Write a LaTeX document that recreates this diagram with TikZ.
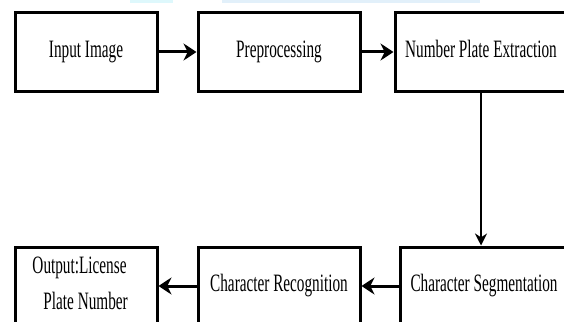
\documentclass[tikz,border=0pt]{standalone}
\usepackage{fontspec}
\setmainfont{Liberation Serif}[FakeStretch=0.61]
\usetikzlibrary{arrows.meta}
\definecolor{bandcyan}{RGB}{222,248,252}
\definecolor{bandblue}{RGB}{226,240,250}

\begin{document}
\begin{tikzpicture}[x=1pt,y=-1pt,
  block/.style={draw,line width=3pt,minimum height=78pt,inner sep=0pt,
    font=\fontsize{25}{36}\selectfont,text height=17pt,text depth=7pt},
  link/.style={line width=3pt,-{Stealth[length=13pt,width=17pt]}},
  drop/.style={line width=2.6pt,-{Stealth[length=12pt,width=12pt]}}]
  \useasboundingbox (0,0) rectangle (564,321);
  \clip (0,0) rectangle (564,321);
  \fill[bandcyan] (130,0) rectangle (173,3);
  \fill[bandblue] (222,0) rectangle (480,3);
  % top row
  \node[block,minimum width=142pt] (input) at (86,52) {Input Image};
  \node[block,minimum width=162pt] (prep) at (279,52) {Preprocessing};
  \node[block,minimum width=172pt] (extract) at (481,52) {Number Plate Extraction};
  % bottom row
  \node[block,minimum width=142pt,align=left,
    text height=53pt,text depth=7pt] (output) at (86,286)
    {Output:License\hspace*{13pt}\\\hspace*{11pt}Plate Number};
  \node[block,minimum width=162pt] (recog) at (279,286) {Character Recognition};
  \node[block,minimum width=168pt] (segment) at (484,286) {Character Segmentation};
  \draw[link] (input) -- (prep);
  \draw[link] (prep) -- (extract);
  \draw[drop] (extract.south) -- (extract.south |- segment.north);
  \draw[link] (segment) -- (recog);
  \draw[link] (recog) -- (output);
\end{tikzpicture}
\end{document}
